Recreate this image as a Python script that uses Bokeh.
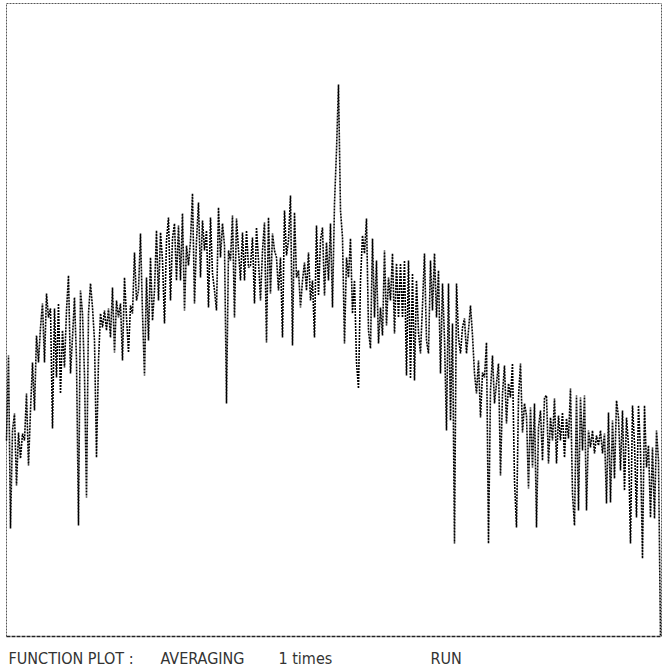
from bokeh.plotting import figure
from bokeh.models import Range1d
from bokeh.core.properties import value
from bokeh.embed import file_html
from bokeh.resources import INLINE

# Function plot samples (amplitude, arbitrary units; 0 = bottom of the plot frame)
signal = [
    196, 281, 108, 206, 223, 151, 204, 178, 203, 196,
    243, 171, 226, 274, 226, 301, 274, 309, 333, 274,
    343, 319, 328, 208, 328, 259, 333, 243, 306, 269,
    326, 361, 263, 299, 339, 276, 111, 346, 323, 261,
    139, 323, 353, 329, 296, 179, 276, 323, 309, 326,
    306, 328, 299, 349, 284, 336, 319, 333, 276, 359,
    319, 284, 331, 323, 384, 336, 346, 403, 323, 261,
    359, 296, 379, 316, 346, 406, 336, 404, 376, 313,
    396, 419, 336, 398, 413, 356, 411, 356, 423, 326,
    391, 371, 396, 443, 333, 396, 434, 359, 416, 386,
    406, 329, 419, 363, 346, 326, 429, 379, 413, 391,
    233, 386, 376, 421, 319, 418, 386, 356, 404, 356,
    406, 369, 371, 399, 333, 409, 376, 336, 386, 414,
    294, 419, 343, 403, 386, 379, 346, 379, 299, 426,
    381, 396, 441, 291, 424, 359, 366, 329, 356, 374,
    346, 384, 336, 356, 299, 411, 341, 396, 409, 341,
    394, 356, 413, 329, 433, 486, 552, 426, 399, 293,
    379, 359, 398, 323, 356, 274, 248, 356, 401, 383,
    418, 306, 288, 398, 319, 376, 293, 329, 301, 386,
    311, 359, 336, 383, 303, 373, 319, 373, 319, 376,
    261, 376, 258, 363, 256, 356, 304, 283, 331, 383,
    296, 283, 376, 326, 383, 319, 366, 263, 353, 298,
    206, 353, 216, 313, 93, 353, 299, 283, 309, 318,
    283, 306, 331, 301, 263, 243, 276, 219, 264, 259,
    294, 93, 246, 281, 233, 253, 273, 161, 243, 271,
    213, 253, 239, 273, 156, 109, 239, 273, 204, 233,
    221, 148, 229, 169, 233, 109, 209, 226, 176, 239,
    241, 173, 219, 196, 238, 173, 221, 196, 224, 179,
    218, 198, 248, 143, 111, 241, 126, 239, 186, 241,
    126, 206, 189, 206, 183, 201, 191, 206, 183, 203,
    133, 224, 134, 216, 158, 236, 219, 166, 226, 146,
    219, 191, 93, 231, 193, 119, 231, 186, 78, 231,
    169, 191, 119, 189, 118, 206, 176, 0,
]
sample = list(range(len(signal)))

status_texts = ["FUNCTION PLOT :", "AVERAGING", "1 times", "RUN"]

# layout (not data): where the frame and the status line sit
FRAME_L, FRAME_R, FRAME_B, FRAME_T = 0, 327.5, 0, 633
STATUS_X = [1, 77, 136, 212]
STATUS_Y = -22

p = figure(width=662, height=668, output_backend="svg", toolbar_location=None,
           x_axis_type=None, y_axis_type=None,
           x_range=Range1d(-3, 328), y_range=Range1d(-32, 636),
           min_border=0)
p.grid.visible = False
p.outline_line_color = None
p.background_fill_color = "white"
p.border_fill_color = "white"

# frame
p.segment(x0=[FRAME_L, FRAME_L, FRAME_R], y0=[FRAME_B, FRAME_T, FRAME_B],
          x1=[FRAME_L, FRAME_R, FRAME_R], y1=[FRAME_T, FRAME_T, FRAME_T],
          line_color="#555555", line_width=1, line_dash="2 1")
p.segment(x0=[FRAME_L], y0=[FRAME_B], x1=[FRAME_R], y1=[FRAME_B],
          line_color="#222222", line_width=1.3, line_dash="4 1")

# signal
p.line(sample, signal, line_color="#000000", line_width=1.6, line_dash="2 1")

# status line
p.text(x=STATUS_X, y=[STATUS_Y] * len(status_texts), text=status_texts,
       text_font=value("DejaVu Sans Condensed"), text_font_size="16px",
       text_color="#333333", text_baseline="alphabetic", text_align="left")

open("out.html", "w").write(file_html(p, INLINE))
